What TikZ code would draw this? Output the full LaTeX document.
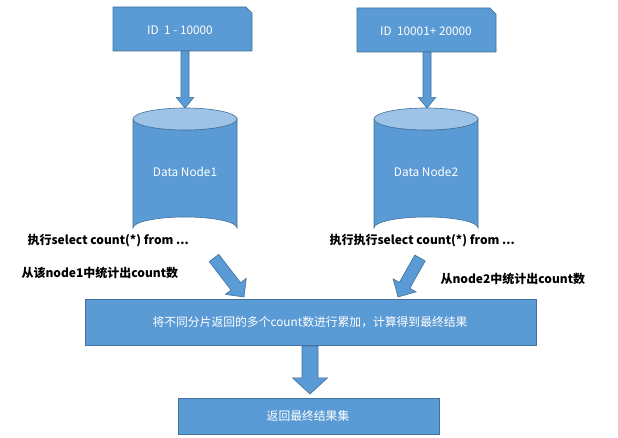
\documentclass[tikz,border=0pt]{standalone}
\usepackage{fontspec}
\setmainfont{Noto Sans CJK SC}
\definecolor{bf}{HTML}{5B9BD5}
\definecolor{bd}{HTML}{41719C}
\definecolor{bt}{HTML}{9DC3E6}
\begin{document}
\begin{tikzpicture}[x=1pt,y=-1pt,
 box/.style={fill=bf,draw=bd,line width=0.6pt},
 wt/.style={text=white,font=\fontsize{11.8}{13}\selectfont},
 bt/.style={text=black,font=\fontsize{12}{13}\selectfont\bfseries,anchor=west},
 barr/.style={draw=bd,line width=0.6pt,fill=bf}]
\useasboundingbox (0,0) rectangle (618,438);
\newcommand\blockarr[5]{%
 \pgfmathsetmacro\dx{#3-#1}\pgfmathsetmacro\dy{#4-#2}
 \pgfmathsetmacro\L{sqrt(\dx*\dx+\dy*\dy)}
 \pgfmathsetmacro\ux{\dx/\L}\pgfmathsetmacro\uy{\dy/\L}
 \pgfmathsetmacro\hl{\L-1.4*#5-5}
 \pgfmathsetmacro\w{#5}\pgfmathsetmacro\W{2.2*#5}
 \path[barr] (#1-\uy*\w,#2+\ux*\w) -- (#1+\ux*\hl-\uy*\w,#2+\uy*\hl+\ux*\w)
   -- (#1+\ux*\hl-\uy*\W,#2+\uy*\hl+\ux*\W) -- (#3,#4)
   -- (#1+\ux*\hl+\uy*\W,#2+\uy*\hl-\ux*\W) -- (#1+\ux*\hl+\uy*\w,#2+\uy*\hl-\ux*\w)
   -- (#1+\uy*\w,#2-\ux*\w) -- cycle;}
\path[box] (113,7) -- (246,7) -- (252,13) -- (252,51) -- (113,51) -- cycle;
\node[wt] (id1) at (180,30) {ID\ \ 1 - 10000};
\path[box] (357,8) -- (490,8) -- (496,14) -- (496,52) -- (357,52) -- cycle;
\node[wt] (id2) at (426,31) {ID\ \ 10001+ 20000};
\blockarr{185}{51}{185}{108}{4}
\blockarr{427}{52}{427}{108}{4}
\foreach \cx/\n/\lab in {185/dn1/Data Node1, 426/dn2/Data Node2}{
 \path[box] (\cx-52,119) -- (\cx-52,228) arc[start angle=180,end angle=360,x radius=52,y radius=11] -- (\cx+52,119) arc[start angle=0,end angle=180,x radius=52,y radius=11];
 \path[draw=bd,fill=bt,line width=0.6pt] (\cx,119) ellipse[x radius=52,y radius=11];
 \node[wt] (\n) at (\cx,172) {\lab};
}
\node[bt] (t1) at (24,241) {执行select count(*) from ...};
\node[bt] (t2) at (18,273) {从该node1中统计出count数};
\node[bt] (t3) at (326,241) {执行执行select count(*) from ...};
\node[bt] (t4) at (437,279) {从node2中统计出count数};
\blockarr{214}{258}{244}{297}{6}
\blockarr{420}{258}{398}{297}{6}
\path[box] (85,299) rectangle (536,345);
\node[wt] (agg) at (310,322) {将不同分片返回的多个count数进行累加，计算得到最终结果};
\blockarr{310}{346}{310}{394}{8}
\path[box] (178,398) rectangle (439,434);
\node[wt] (res) at (308,416) {返回最终结果集};
\end{tikzpicture}
\end{document}
